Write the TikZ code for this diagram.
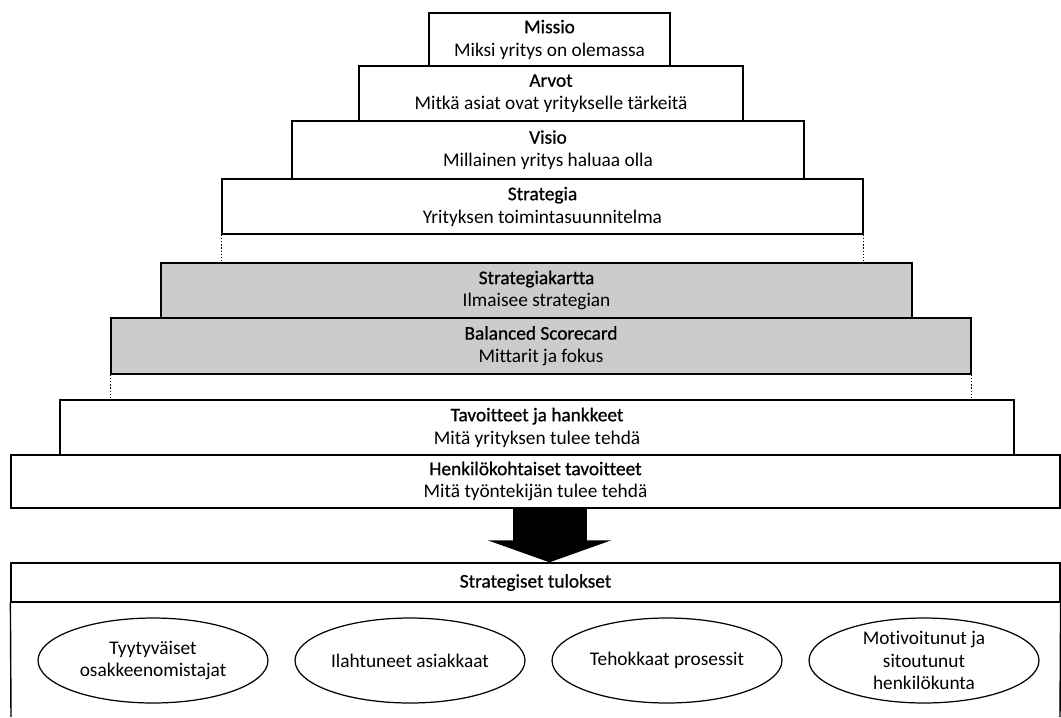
\documentclass[tikz,border=0pt]{standalone}
\usepackage{fontspec}
\setmainfont[Ligatures=NoCommon]{Carlito}
\newfontfamily\headfont[FakeBold=0.8, Ligatures=NoCommon]{Carlito}
\usetikzlibrary{arrows.meta,shapes.geometric}

\begin{document}
\begin{tikzpicture}[x=0.02cm, y=-0.02cm, every node/.style={font=\fontsize{11}{13}\selectfont}, lyr/.style={draw, line width=0.8pt, inner sep=0pt, align=center}, grey/.style={lyr, fill=black!20}, goal/.style={draw, ellipse, line width=0.7pt, minimum width=4.6cm, minimum height=1.7cm, inner sep=0pt, align=center}, link/.style={densely dotted, line width=0.8pt}]
	\useasboundingbox (0,0) rectangle (1061,717);
	% pyramid, top to bottom
	\node[lyr, minimum width=4.82cm, minimum height=1.06cm] (missio) at (549.5,39.5) {{\headfont Missio}\\Miksi yritys on olemassa};
	\node[lyr, minimum width=7.68cm, minimum height=1.1cm] (arvot) at (551,93.5) {{\headfont Arvot}\\Mitkä asiat ovat yritykselle tärkeitä};
	\node[lyr, minimum width=10.24cm, minimum height=1.16cm] (visio) at (548,150) {{\headfont Visio}\\Millainen yritys haluaa olla};
	\node[lyr, minimum width=12.82cm, minimum height=1.1cm] (strat) at (542.5,206.5) {{\headfont Strategia}\\Yrityksen toimintasuunnitelma};
	\node[grey, minimum width=15.02cm, minimum height=1.1cm] (kartta) at (536.5,290.5) {{\headfont Strategiakartta}\\Ilmaisee strategian};
	\node[grey, minimum width=17.2cm, minimum height=1.12cm] (bsc) at (541,346) {{\headfont Balanced Scorecard}\\Mittarit ja fokus};
	\node[lyr, minimum width=19.08cm, minimum height=1.1cm] (tav) at (537,427.5) {{\headfont Tavoitteet ja hankkeet}\\Mitä yrityksen tulee tehdä};
	\node[lyr, minimum width=20.98cm, minimum height=1.06cm] (henk) at (535.5,481.5) {{\headfont Henkilökohtaiset tavoitteet}\\Mitä työntekijän tulee tehdä};
	% dotted joins
	\draw[link] (strat.south west) -- (strat.south west |- kartta.north);
	\draw[link] (strat.south east) -- (strat.south east |- kartta.north);
	\draw[link] (bsc.south west) -- (bsc.south west |- tav.north);
	\draw[link] (bsc.south east) -- (bsc.south east |- tav.north);
	% results
	\node[lyr, minimum width=20.98cm, minimum height=0.78cm] (tulos) at (535.5,582.5) {{\headfont Strategiset tulokset}};
	\coordinate (bl) at (11,717);
	\coordinate (br) at (1060,717);
	\draw[line width=0.8pt] (tulos.south west) -- (bl);
	\draw[line width=0.8pt] (tulos.south east) -- (br);
	\draw[-{Triangle[width=2.46cm, length=0.44cm]}, line width=1.48cm] (henk.south -| missio) -- (tulos.north -| missio);
	\node[goal] (omist) at (153,660.5) {Tyytyväiset\\osakkeenomistajat};
	\node[goal] (asiak) at (410,660.5) {Ilahtuneet asiakkaat};
	\node[goal] (pros) at (667,660.5) {Tehokkaat prosessit};
	\node[goal] (henkil) at (924,660.5) {Motivoitunut ja\\sitoutunut\\henkilökunta};
\end{tikzpicture}
\end{document}
